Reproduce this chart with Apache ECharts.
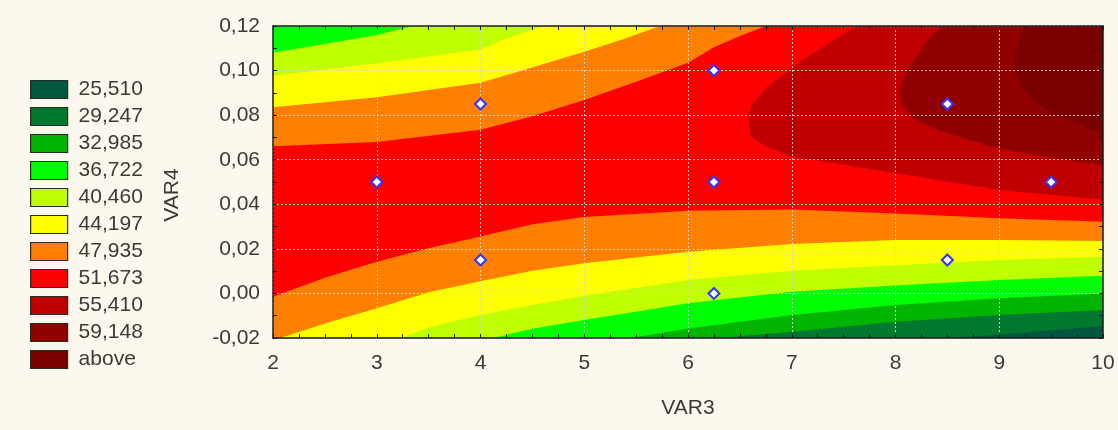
<!DOCTYPE html>
<html>
<head>
<meta charset="utf-8">
<script src="https://cdn.jsdelivr.net/npm/echarts@6/dist/echarts.min.js"></script>
<style>
  html, body { margin: 0; padding: 0; background: #fcf8ee; }
  #chart { width: 1118px; height: 430px; }
</style>
</head>
<body>
<div id="chart"></div>
<script>
// Contour levels of the fitted response, lowest first (legend labels)
const levelLabels = ['25,510', '29,247', '32,985', '36,722', '40,460', '44,197',
                     '47,935', '51,673', '55,410', '59,148', 'above'];
const bandColors = ['#00573f', '#00792e', '#00b400', '#00ff00', '#bfff00', '#ffff00',
                    '#ff8000', '#ff0000', '#c00000', '#900000', '#7a0000'];

// Axis ranges
const var3Range = [2, 10];
const var4Range = [-0.02, 0.12];

// Design points (VAR3, VAR4)
const designVar3 = [3, 4, 4, 6.25, 6.25, 6.25, 8.5, 8.5, 9.5];
const designVar4 = [0.05, 0.085, 0.015, 0.1, 0.05, 0.0, 0.085, 0.015, 0.05];

// Iso-lines [VAR3, VAR4] on the upper-left flank (left edge -> top edge)
const upper47935 = [[2, 0.066], [3, 0.068], [4, 0.0735], [4.5, 0.0795], [5, 0.0868], [5.5, 0.095],
                    [6, 0.1035], [6.25, 0.1105], [6.5, 0.1155], [6.75, 0.12]];
const upper44197 = [[2, 0.0835], [3, 0.088], [4, 0.0945], [4.4, 0.1], [5, 0.1085], [5.4, 0.1145], [5.73, 0.12]];
const upper40460 = [[2, 0.0977], [3, 0.1033], [4, 0.1095], [4.2, 0.1135], [4.6, 0.12]];
const upper36722 = [[2, 0.108], [3, 0.116], [3.35, 0.12]];

// Iso-lines on the lower flank (left/bottom edge -> right edge)
const lower47935 = [[2, -0.0015], [2.5, 0.007], [3, 0.0142], [3.5, 0.0203], [4, 0.0256], [4.5, 0.031],
                    [5, 0.0343], [6, 0.0371], [7, 0.0377], [8, 0.0359], [9, 0.0337], [10, 0.0322]];
const lower44197 = [[2.07, -0.02], [2.5, -0.0135], [3, -0.0067], [3.5, 0.0005], [4, 0.0055], [4.5, 0.0102],
                    [5, 0.0135], [6, 0.0187], [7, 0.0222], [8, 0.024], [9, 0.024], [10, 0.0235]];
const lower40460 = [[3.23, -0.02], [3.52, -0.0149], [4, -0.0097], [4.5, -0.0052], [5, -0.001], [6, 0.006],
                    [7, 0.0102], [8, 0.0127], [9, 0.015], [10, 0.0165]];
const lower36722 = [[4.12, -0.02], [4.5, -0.0158], [5, -0.0119], [6, -0.0044], [7, 0.0008], [8, 0.0036],
                    [9, 0.006], [10, 0.0079]];
const lower32985 = [[5.44, -0.02], [6, -0.0157], [7, -0.0097], [8, -0.0052], [9, -0.0022], [10, 0.0]];
const lower29247 = [[6.3, -0.02], [7, -0.0172], [8, -0.0127], [9, -0.0097], [10, -0.0074]];
const lower25510 = [[8.55, -0.02], [9, -0.0184], [10, -0.0146]];

// Iso-lines around the maximum (right edge -> top edge)
const peak51673 = [[10, 0.042], [9, 0.0464], [8, 0.0539], [7, 0.0614], [6.75, 0.066], [6.6, 0.0705],
                   [6.58, 0.0795], [6.62, 0.085], [6.76, 0.0925], [7.08, 0.104], [7.35, 0.112], [7.62, 0.12]];
const peak55410 = [[10, 0.0575], [9.5, 0.061], [9, 0.065], [8.65, 0.0697], [8.4, 0.0735], [8.17, 0.0785],
                   [8.06, 0.085], [8.04, 0.0913], [8.1, 0.099], [8.2, 0.106], [8.3, 0.113], [8.45, 0.12]];
const peak59148 = [[10, 0.0718], [9.75, 0.0762], [9.52, 0.0808], [9.35, 0.086], [9.22, 0.0928],
                   [9.15, 0.1], [9.15, 0.1077], [9.24, 0.12]];

// ---- build filled regions (painted lowest layer first) ----
const [x0, x1] = var3Range;
const [y0, y1] = var4Range;
const closeTopLeft = line => line.concat([[x0, y1]]);
const closeBottom = line => line.concat([[x1, y0], [x0, y0]]);
const closeTopRight = line => line.concat([[x1, y1]]);

// each entry: band index (into levelLabels) and its polygons
const layers = [
  { band: 7, polys: [[[x0, y0], [x1, y0], [x1, y1], [x0, y1]]] },
  { band: 6, polys: [closeTopLeft(upper47935), closeBottom(lower47935)] },
  { band: 5, polys: [closeTopLeft(upper44197), closeBottom(lower44197)] },
  { band: 4, polys: [closeTopLeft(upper40460), closeBottom(lower40460)] },
  { band: 3, polys: [closeTopLeft(upper36722), closeBottom(lower36722)] },
  { band: 2, polys: [closeBottom(lower32985)] },
  { band: 1, polys: [closeBottom(lower29247)] },
  { band: 0, polys: [closeBottom(lower25510)] },
  { band: 8, polys: [closeTopRight(peak51673)] },
  { band: 9, polys: [closeTopRight(peak55410)] },
  { band: 10, polys: [closeTopRight(peak59148)] }
];

const FONT = '"Liberation Sans", Arial, sans-serif';
const TEXT = '#3a3a3a';
const comma = v => v.toFixed(2).replace('.', ',');

const bandSeries = layers.map(layer => ({
  type: 'custom',
  name: levelLabels[layer.band],
  coordinateSystem: 'cartesian2d',
  clip: true,
  silent: true,
  z: 2,
  itemStyle: { color: bandColors[layer.band] },
  data: layer.polys.map((_, i) => [i]),
  renderItem: (params, api) => ({
    type: 'polygon',
    shape: { points: layer.polys[params.dataIndex].map(p => api.coord(p)) },
    style: { fill: bandColors[layer.band], stroke: null }
  })
}));

const axisLineStyle = { show: true, onZero: false, lineStyle: { color: '#1a1a1a', width: 1.5 } };
const tickStyle = { show: true, inside: true, length: 4, lineStyle: { color: '#1a1a1a', width: 1 } };
const minorStyle = n => ({ show: true, splitNumber: n, length: 4, lineStyle: { color: '#1a1a1a', width: 1 } });
const gridStyle = { show: true, lineStyle: { color: 'rgba(215,215,215,0.9)', type: [2, 2], width: 1 } };

const chart = echarts.init(document.getElementById('chart'), null, { renderer: 'canvas' });
chart.setOption({
  backgroundColor: '#fcf8ee',
  animation: false,
  textStyle: { fontFamily: FONT },
  grid: { left: 273, top: 26, right: 15, bottom: 92, containLabel: false },
  legend: {
    orient: 'vertical',
    left: 25,
    top: 74,
    icon: 'rect',
    itemWidth: 37,
    itemHeight: 18,
    itemGap: 6,
    selectedMode: false,
    data: levelLabels,
    itemStyle: { borderColor: '#2a2a2a', borderWidth: 1.2 },
    textStyle: { fontFamily: FONT, fontSize: 21, color: TEXT, lineHeight: 18, padding: [0, 0, 0, 6] }
  },
  xAxis: [
    {
      type: 'value', position: 'bottom', min: x0, max: x1, interval: 1, z: 3,
      name: 'VAR3', nameLocation: 'middle', nameGap: 60,
      nameTextStyle: { fontFamily: FONT, fontSize: 21, color: TEXT },
      axisLine: axisLineStyle, axisTick: tickStyle, minorTick: minorStyle(4),
      splitLine: gridStyle,
      axisLabel: { fontFamily: FONT, fontSize: 21, color: TEXT, margin: 15 }
    },
    {
      type: 'value', position: 'top', min: x0, max: x1, interval: 1, z: 3,
      axisLine: axisLineStyle, axisTick: tickStyle, minorTick: minorStyle(4),
      splitLine: { show: false }, axisLabel: { show: false }
    }
  ],
  yAxis: [
    {
      type: 'value', position: 'left', min: y0, max: y1, interval: 0.02, z: 3,
      name: 'VAR4', nameLocation: 'middle', nameGap: 90, nameRotate: 90,
      nameTextStyle: { fontFamily: FONT, fontSize: 21, color: TEXT, padding: [0, 26, 0, 0] },
      axisLine: axisLineStyle, axisTick: tickStyle, minorTick: minorStyle(2),
      splitLine: gridStyle,
      axisLabel: { fontFamily: FONT, fontSize: 21, color: TEXT, margin: 13, formatter: comma }
    },
    {
      type: 'value', position: 'right', min: y0, max: y1, interval: 0.02, z: 3,
      axisLine: axisLineStyle, axisTick: tickStyle, minorTick: minorStyle(2),
      splitLine: { show: false }, axisLabel: { show: false }
    }
  ],
  series: bandSeries.concat([{
    type: 'scatter',
    name: 'design',
    z: 10,
    symbol: 'diamond',
    symbolSize: 11,
    itemStyle: { color: '#ffffff', borderColor: '#3434ff', borderWidth: 2, opacity: 1 },
    data: designVar3.map((v, i) => [v, designVar4[i]])
  }])
});
</script>
</body>
</html>
